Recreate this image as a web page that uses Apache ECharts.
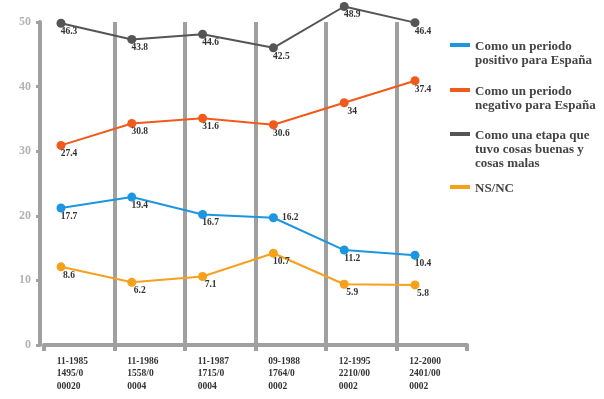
<!DOCTYPE html>
<html>
<head>
<meta charset="utf-8">
<script src="https://cdn.jsdelivr.net/npm/echarts@6/dist/echarts.min.js"></script>
<style>
  html, body { margin: 0; padding: 0; background: #fff; }
  #chart { width: 604px; height: 399px; }
</style>
</head>
<body>
<div id="chart"></div>
<script>
// etiquetas del eje x (fecha / muestra / estudio)
var fechas = ['11-1985', '11-1986', '11-1987', '09-1988', '12-1995', '12-2000']
var muestras = ['1495/0', '1558/0', '1715/0', '1764/0', '2210/00', '2401/00']
var estudios = ['00020', '0004', '0004', '0002', '0002', '0002']

var nombres = [
    'Como un periodo\npositivo para España',
    'Como un periodo\nnegativo para España',
    'Como una etapa que\ntuvo cosas buenas y\ncosas malas',
    'NS/NC'
]
var positivo = [17.7, 19.4, 16.7, 16.2, 11.2, 10.4]
var negativo = [27.4, 30.8, 31.6, 30.6, 34, 37.4]
var etapa = [46.3, 43.8, 44.6, 42.5, 48.9, 46.4]
var nsnc = [8.6, 6.2, 7.1, 10.7, 5.9, 5.8]

var colores = ['#1c96e0', '#f05a1a', '#555555', '#f7a01c']
var serif = 'Liberation Serif'
var gris = '#a0a0a0'
var altoLinea = 14

var categorias = fechas.map(function (f, i) {
    return '{a|' + f + '}\n{a|' + muestras[i] + '}\n{a|' + estudios[i] + '}'
})

function serie(idx, valores) {
    return {
        name: nombres[idx],
        type: 'line',
        xAxisIndex: 1,
        yAxisIndex: 1,
        clip: false,
        symbol: 'circle',
        symbolSize: 9,
        color: colores[idx],
        lineStyle: { width: 2 },
        label: {
            show: true,
            position: 'bottom',
            distance: 1,
            offset: [8, -2],
            fontFamily: serif,
            fontWeight: 'bold',
            fontSize: 9.5,
            color: '#333'
        },
        data: valores
    }
}

// una leyenda por serie, el icono queda a la altura de la primera linea
var topes = [40, 85, 129, 182]

var chart = echarts.init(document.getElementById('chart'))
chart.setOption({
    animation: false,
    backgroundColor: '#fff',
    grid: [
        { left: 44, right: 137, top: 22, bottom: 54 },
        { left: 61, right: 189, top: 22, bottom: 54 }
    ],
    legend: topes.map(function (t, i) {
        var lineas = nombres[i].split('\n').length
        var alto = lineas * altoLinea
        return {
            data: [nombres[i]],
            left: 450,
            top: t,
            orient: 'vertical',
            padding: 0,
            icon: 'path://M0,3L20,3L20,7L0,7Z M0,0L0,0Z M20,' + alto + 'L20,' + alto + 'Z',
            itemWidth: 20,
            itemHeight: alto,
            itemStyle: { borderWidth: 0 },
            textStyle: {
                fontFamily: serif,
                fontWeight: 'bold',
                fontSize: 13,
                lineHeight: altoLinea,
                color: '#444'
            }
        }
    }),
    xAxis: [{
        gridIndex: 0,
        type: 'category',
        data: categorias,
        boundaryGap: true,
        axisLine: { lineStyle: { color: gris, width: 4 } },
        axisTick: { show: true, length: 6, lineStyle: { color: gris, width: 4 } },
        splitLine: {
            show: true,
            showMinLine: false,
            showMaxLine: false,
            lineStyle: { color: gris, width: 4 }
        },
        axisLabel: {
            margin: 10,
            interval: 0,
            lineHeight: 12.5,
            rich: {
                a: {
                    width: 45,
                    align: 'left',
                    fontFamily: serif,
                    fontWeight: 'bold',
                    fontSize: 9.5,
                    lineHeight: 12.5,
                    color: '#333'
                }
            }
        }
    }, {
        gridIndex: 1,
        type: 'category',
        data: fechas,
        boundaryGap: false,
        show: false
    }],
    yAxis: [{
        gridIndex: 0,
        type: 'value',
        min: 0,
        max: 50,
        interval: 10,
        offset: 4,
        axisLine: { show: true, lineStyle: { color: gris, width: 4 } },
        axisTick: { show: true, length: 4, lineStyle: { color: gris, width: 3 } },
        splitLine: { show: false },
        axisLabel: {
            margin: 9,
            fontFamily: serif,
            fontWeight: 'bold',
            fontSize: 12,
            color: '#b3b3b3'
        }
    }, {
        gridIndex: 1,
        type: 'value',
        min: -3.5,
        max: 46.5,
        show: false
    }],
    series: [
        serie(0, positivo.map(function (v, i) {
            return i === 3 ? { value: v, label: { position: 'right', distance: 4, offset: [0, 0] } } : v
        })),
        serie(1, negativo),
        serie(2, etapa),
        serie(3, nsnc)
    ]
})
</script>
</body>
</html>
